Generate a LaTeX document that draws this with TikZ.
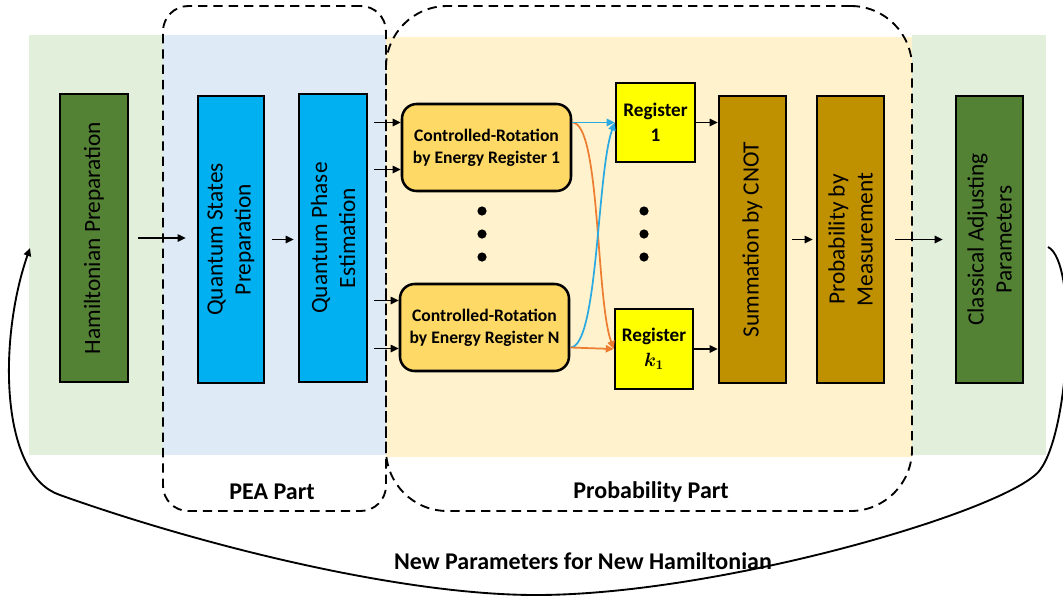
\documentclass[tikz,border=0pt]{standalone}
\usepackage{fontspec}
\setmainfont{Carlito}
\usepackage{bm}
\usetikzlibrary{arrows.meta,calc,fit}

\definecolor{bggreen}{HTML}{E2EFDA}
\definecolor{bgblue}{HTML}{DEEBF7}
\definecolor{bgcream}{HTML}{FFF2CC}
\definecolor{boxgreen}{HTML}{548235}
\definecolor{boxcyan}{HTML}{00B0F0}
\definecolor{boxgold}{HTML}{FFD966}
\definecolor{boxyellow}{HTML}{FFFF00}
\definecolor{boxbrown}{HTML}{BF9000}
\definecolor{linkblue}{HTML}{2BAAE2}
\definecolor{linkorange}{HTML}{ED7D31}

\begin{document}
\begin{tikzpicture}[x=0.75pt,y=-0.75pt,
  block/.style={draw=black, line width=1.9pt, inner sep=0pt},
  vtext/.style={rotate=90, align=center, inner sep=0pt,
                font=\fontsize{17.5}{21}\selectfont},
  crbox/.style={block, fill=boxgold, rounded corners=11pt},
  crtext/.style={align=center, inner sep=0pt,
                 font=\bfseries\fontsize{13.2}{16.5}\selectfont},
  regtext/.style={align=center, inner sep=0pt,
                  font=\bfseries\fontsize{14.4}{18.75}\selectfont},
  arr/.style={-{Triangle[length=6pt,width=5.5pt]}, line width=1.1pt},
  link/.style={-{Triangle[length=6pt,width=5.5pt]}, line width=1.3pt},
  zone/.style={draw=black, line width=1.4pt, dash pattern=on 7pt off 4.5pt, inner sep=0pt},
  parttext/.style={font=\bfseries\fontsize{18}{21}\selectfont}]

\useasboundingbox (0,0) rectangle (1063,597);

% shaded bands
\fill[bggreen] (29,35) rectangle (163,455);
\fill[bgblue] (163,35) rectangle (386,455);
\fill[bgcream] (386,37) rectangle (912,457);
\fill[bggreen] (912,35) rectangle (1046,455);

% dashed groupings
\node[zone, rounded corners=19pt, fit={(163,6) (386,511)}] (pea) {};
\node[zone, rounded corners=46pt, fit={(386,6) (912,511)}] (prob) {};
\node[parttext] (pealab) at (272,492) {PEA Part};
\node[parttext] (problab) at (651,492) {Probability Part};

% main blocks
\node[block, fill=boxgreen, fit={(60,94) (128,382)},
      label={[vtext]center:Hamiltonian Preparation}] (ham) {};
\node[block, fill=boxcyan, fit={(198,96) (264,383)},
      label={[vtext]center:{Quantum States\\Preparation}}] (qsp) {};
\node[block, fill=boxcyan, fit={(299,94) (367,382)},
      label={[vtext]center:{Quantum Phase\\Estimation}}] (qpe) {};

\node[crbox, fit={(402,104) (571,191)},
      label={[crtext]center:{Controlled-Rotation\\by Energy Register 1}}] (cr1) {};
\node[crbox, fit={(400,284) (569,371)},
      label={[crtext]center:{Controlled-Rotation\\by Energy Register N}}] (crN) {};

\node[block, fill=boxyellow, fit={(616,83) (695,162)},
      label={[regtext]center:{Register\\1}}] (reg1) {};
\node[block, fill=boxyellow, fit={(615,309) (693,389)},
      label={[regtext]center:{Register\\$\bm{k}_{\bm{1}}$}}] (regk) {};

\node[block, fill=boxbrown, fit={(719,96) (786,383)},
      label={[vtext]center:Summation by CNOT}] (sum) {};
\node[block, fill=boxbrown, fit={(817,96) (884,383)},
      label={[vtext]center:{Probability by\\Measurement}}] (meas) {};
\node[block, fill=boxgreen, fit={(956,96) (1023,383)},
      label={[vtext]center:{Classical Adjusting\\Parameters}}] (cls) {};

% ellipsis dots
\foreach \yy in {211,234,257} {
  \fill (482,\yy) circle[radius=4.6];
  \fill (644,\yy) circle[radius=4.6];
}

% forward flow
\draw[arr, shorten <=6.75pt, shorten >=8.25pt] (ham.east) -- (ham.east -| qsp.west);
\draw[arr, shorten <=5.25pt, shorten >=3pt] (qsp.east) -- (qsp.east -| qpe.west);

\draw[arr] ($(qpe.east |- cr1.west)+(6,-25)$) -- ($(cr1.west)+(0,-25)$);
\draw[arr] ($(qpe.east |- cr1.west)+(6,22)$) -- ($(cr1.west)+(0,22)$);
\draw[arr] ($(qpe.east |- crN.west)+(6,-27)$) -- ($(crN.west)+(0,-27)$);
\draw[arr] ($(qpe.east |- crN.west)+(6,21)$) -- ($(crN.west)+(0,21)$);

% register routing
\coordinate (c1o) at ($(cr1.east)+(0,-25)$);
\coordinate (cNo) at ($(crN.east)+(0,20)$);
\draw[link, draw=linkorange, -{Triangle[length=6pt,width=5.5pt,fill=linkorange]}]
  (c1o) .. controls ($(c1o)+(28,0)$) and ($(regk.west)+(-18,-50)$) .. (regk.west);
\draw[link, draw=linkblue, -{Triangle[length=6pt,width=5.5pt,fill=linkblue]}]
  (cNo) .. controls ($(cNo)+(28,0)$) and ($(reg1.west)+(-18,50)$) .. (reg1.west);
\draw[link, draw=linkblue, -{Triangle[length=6pt,width=5.5pt,fill=linkblue]}]
  (c1o) -- (reg1.west);
\draw[link, draw=linkorange, -{Triangle[length=6pt,width=5.5pt,fill=linkorange]}]
  (cNo) -- (regk.west);

\draw[arr] (reg1.east) -- (reg1.east -| sum.west);
\draw[arr] (regk.east) -- (regk.east -| sum.west);
\draw[arr, shorten <=3.75pt, shorten >=2.25pt] (sum.east) -- (sum.east -| meas.west);
\draw[arr, shorten <=7.5pt, shorten >=9pt] (meas.east) -- (meas.east -| cls.west);

% feedback loop
\coordinate (fbs) at (1048,247);
\coordinate (fbe) at (30,248);
\draw[line width=1.4pt, -{Triangle[length=6pt,width=5.5pt]}]
  (fbs) .. controls (1078,262) and (1070,430) .. (1040,470)
        .. controls (1010,510) and (720,595) .. (536,595)
        .. controls (400,595) and (200,545) .. (60,495)
        .. controls (0,475) and (-2,340) .. (fbe);
\node[parttext] (fblab) at (583,561) {New Parameters for New Hamiltonian};

\end{tikzpicture}
\end{document}
